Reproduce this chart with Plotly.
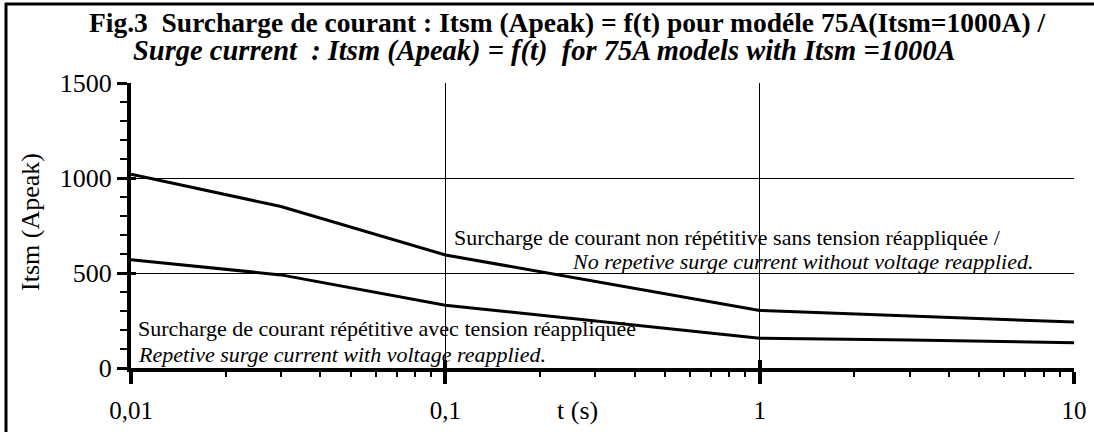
import plotly.graph_objects as go

# ---- data ----
t_non_rep = [0.01, 0.03, 0.1, 1, 10]
itsm_non_rep = [1020, 850, 595, 303, 242]

t_rep = [0.01, 0.03, 0.1, 1, 3, 10]
itsm_rep = [570, 490, 330, 157, 147, 133]

x_tick_vals = [0.01, 0.1, 1, 10]
x_tick_text = ["0,01", "0,1", "1", "10"]
x_minor_vals = [m * d for d in (0.01, 0.1, 1) for m in range(2, 10)]
y_tick_vals = [0, 500, 1000, 1500]
y_tick_text = ["0", "500", "1000", "1500"]

FONT = "Liberation Serif, Times New Roman, serif"

# plot area in pixels
L, R, T, B = 131, 1074, 83, 368
W, H = 1094, 432


def px(xpix):
    return (xpix - L) / (R - L)


def py(ypix):
    return (B - ypix) / (B - T)


fig = go.Figure()
fig.add_trace(go.Scatter(x=t_non_rep, y=itsm_non_rep, mode="lines",
                         line=dict(color="black", width=3), showlegend=False))
fig.add_trace(go.Scatter(x=t_rep, y=itsm_rep, mode="lines",
                         line=dict(color="black", width=3), showlegend=False))
# invisible trace to host the overlay axes (inner halves of major ticks)
fig.add_trace(go.Scatter(x=[x_tick_vals[0]], y=[y_tick_vals[0]], mode="markers",
                         marker=dict(opacity=0), xaxis="x2", yaxis="y2",
                         showlegend=False, hoverinfo="skip"))

fig.update_layout(
    width=W, height=H,
    margin=dict(l=L, r=W - R, t=T, b=H - B, autoexpand=False),
    paper_bgcolor="white", plot_bgcolor="white",
    font=dict(family=FONT, color="black"),
    xaxis=dict(
        type="log", range=[-2, 1], automargin=False,
        tickmode="array", tickvals=x_tick_vals, ticktext=x_tick_text,
        ticks="outside", ticklen=12, tickwidth=4, tickcolor="black",
        ticklabelstandoff=5,
        tickfont=dict(size=25, family=FONT),
        showline=True, linewidth=4, linecolor="black",
        showgrid=True, gridcolor="black", gridwidth=1,
        zeroline=False,
        minor=dict(tickmode="array", tickvals=x_minor_vals, ticks="outside",
                   ticklen=5, tickwidth=2, tickcolor="black", showgrid=False),
    ),
    yaxis=dict(
        range=[0, 1500], automargin=False,
        tickmode="array", tickvals=y_tick_vals, ticktext=y_tick_text,
        ticks="outside", ticklen=10, tickwidth=2.5, tickcolor="black",
        tickfont=dict(size=26, family=FONT),
        showline=True, linewidth=4, linecolor="black",
        showgrid=True, gridcolor="black", gridwidth=1,
        zeroline=False,
        minor=dict(dtick=100, ticks="outside", ticklen=7, tickwidth=2,
                   tickcolor="black", showgrid=False),
    ),
    xaxis2=dict(
        type="log", range=[-2, 1], overlaying="x", anchor="y2", side="bottom",
        automargin=False,
        tickmode="array", tickvals=x_tick_vals,
        ticks="inside", ticklen=8, tickwidth=4, tickcolor="black",
        showticklabels=False, showgrid=False, showline=False, zeroline=False,
    ),
    yaxis2=dict(
        range=[0, 1500], overlaying="y", anchor="x2", side="left",
        automargin=False,
        tickmode="array", tickvals=y_tick_vals,
        ticks="inside", ticklen=5, tickwidth=2.5, tickcolor="black",
        showticklabels=False, showgrid=False, showline=False, zeroline=False,
    ),
)

ann = []


def add_text(text, x, y, size, xanchor="left", angle=0):
    ann.append(dict(text=text, xref="paper", yref="paper", x=x, y=y,
                    xanchor=xanchor, yanchor="middle", showarrow=False,
                    textangle=angle, borderpad=0,
                    font=dict(size=size, family=FONT, color="black")))


add_text("<b>Fig.3  Surcharge de courant : Itsm (Apeak) = f(t) pour modéle 75A(Itsm=1000A) /</b>",
         px(88), py(22), 27.5)
add_text("<b><i>Surge current  : Itsm (Apeak) = f(t)  for 75A models with Itsm =1000A</i></b>",
         px(132), py(51), 28.5)
add_text("Surcharge de courant non répétitive sans tension réappliquée /",
         px(453), py(237), 22)
add_text("<i>No repetive surge current without voltage reapplied.</i>",
         px(1035), py(261), 22, xanchor="right")
add_text("Surcharge de courant répétitive avec tension réappliquée",
         px(137), py(328), 22)
add_text("<i>Repetive surge current with voltage reapplied.</i>",
         px(137), py(354), 22)
add_text("Itsm (Apeak)", px(30), py(222), 26, xanchor="center", angle=-90)
add_text("t (s)", px(577), py(410), 26, xanchor="center")

fig.update_layout(annotations=ann)

# outer frame (top and left edges visible in the reference)
fig.add_shape(type="line", xref="paper", yref="paper",
              x0=px(5), x1=px(1100), y0=py(4), y1=py(4),
              line=dict(color="black", width=3))
fig.add_shape(type="line", xref="paper", yref="paper",
              x0=px(6), x1=px(6), y0=py(3), y1=py(440),
              line=dict(color="black", width=3))

fig.write_html(
    "out.html",
    config={"displayModeBar": False},
    post_script="document.body.style.margin='0px';document.body.style.overflow='hidden';",
)
